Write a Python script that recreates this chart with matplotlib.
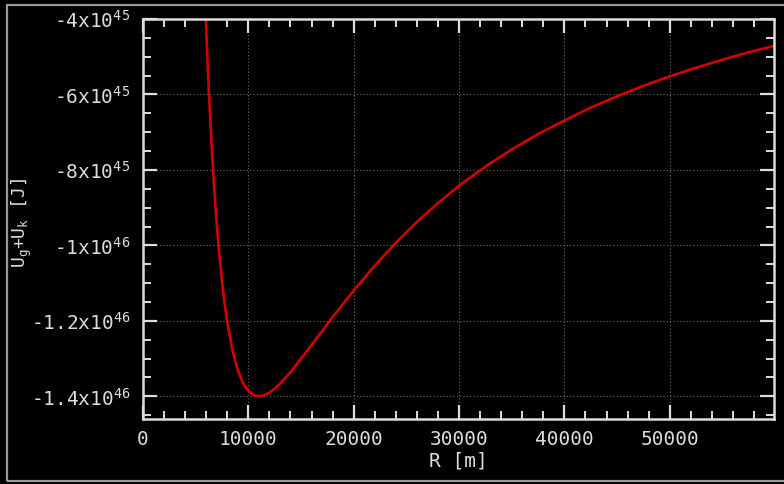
import numpy as np
import matplotlib
matplotlib.use("Agg")
import matplotlib.pyplot as plt
from matplotlib.patches import Rectangle
from matplotlib.ticker import MultipleLocator, FixedLocator

# R in metres, U_g+U_k in units of 1e45 J
radius = [5900, 6000, 6250, 6500, 6750, 7000, 7250, 7500, 7750, 8000,
          8500, 9000, 9500, 10000, 10500, 11000, 11500, 12000, 12500, 13000,
          14000, 15000, 16000, 17000, 18000, 19000, 20000, 22000, 24000, 26000,
          28000, 30000, 32500, 35000, 37500, 40000, 42500, 45000, 47500, 50000,
          52500, 55000, 57500, 60000]
energy = [-3.54, -4.28, -5.91, -7.29, -8.45, -9.43, -10.26, -10.95, -11.54, -12.03,
          -12.79, -13.31, -13.65, -13.86, -13.97, -14.00, -13.97, -13.90, -13.80, -13.67,
          -13.36, -13.00, -12.64, -12.27, -11.90, -11.55, -11.20, -10.54, -9.93, -9.38,
          -8.88, -8.42, -7.91, -7.46, -7.05, -6.69, -6.35, -6.05, -5.77, -5.52,
          -5.29, -5.08, -4.88, -4.71]

y_ticks = [-4e45, -6e45, -8e45, -1e46, -1.2e46, -1.4e46]
y_labels = [r"-4x10$^{45}$", r"-6x10$^{45}$", r"-8x10$^{45}$",
            r"-1x10$^{46}$", r"-1.2x10$^{46}$", r"-1.4x10$^{46}$"]
x_ticks = [0, 10000, 20000, 30000, 40000, 50000]

fg = "#dcdcdc"
plt.rcParams["font.family"] = ["DejaVu Sans Mono"]
plt.rcParams["mathtext.fontset"] = "custom"
plt.rcParams["mathtext.rm"] = "DejaVu Sans Mono"
plt.rcParams["mathtext.default"] = "rm"

fig = plt.figure(figsize=(7.84, 4.84), dpi=100, facecolor="black")
W, H = 784, 484
ax = fig.add_axes([143 / W, 1 - 419 / H, (774 - 143) / W, (419 - 19) / H])
ax.set_facecolor("black")

# window border (right side runs off the picture)
fig.patches.append(Rectangle((7 / W, 3 / H), (800 - 7) / W, (480 - 4) / H,
                             transform=fig.transFigure, fill=False,
                             edgecolor="#9a9a9a", linewidth=1.6))

U = np.array(energy) * 1e45
ax.plot(radius, U, color="#d40000", linewidth=1.9)

ax.set_xlim(0, 59900)
ax.set_ylim(-1.46e46, -4e45)

ax.xaxis.set_major_locator(FixedLocator(x_ticks))
ax.xaxis.set_minor_locator(MultipleLocator(2000))
ax.yaxis.set_major_locator(FixedLocator(y_ticks))
ax.yaxis.set_minor_locator(MultipleLocator(5e44))
ax.set_yticklabels(y_labels)
ax.set_xticklabels([str(v) for v in x_ticks])

ax.tick_params(which="both", direction="in", top=True, right=True,
               colors=fg, labelsize=14)
ax.tick_params(which="major", length=10, width=1.6)
ax.tick_params(which="minor", length=6, width=1.4)
ax.tick_params(axis="y", pad=9)
ax.tick_params(axis="x", pad=8)

for s in ax.spines.values():
    s.set_color(fg)
    s.set_linewidth(1.8)

ax.grid(True, which="major", color="#6a6a6a", linestyle=(0, (1, 2)), linewidth=0.8)

ax.set_xlabel("R [m]", color=fg, fontsize=14, labelpad=2)
ax.set_ylabel(r"U$_g$+U$_k$ [J]", color=fg, fontsize=13)
ax.yaxis.set_label_coords((34 - 143) / (774 - 143), 0.49)

fig.savefig("out.png", dpi=100, facecolor="black")
